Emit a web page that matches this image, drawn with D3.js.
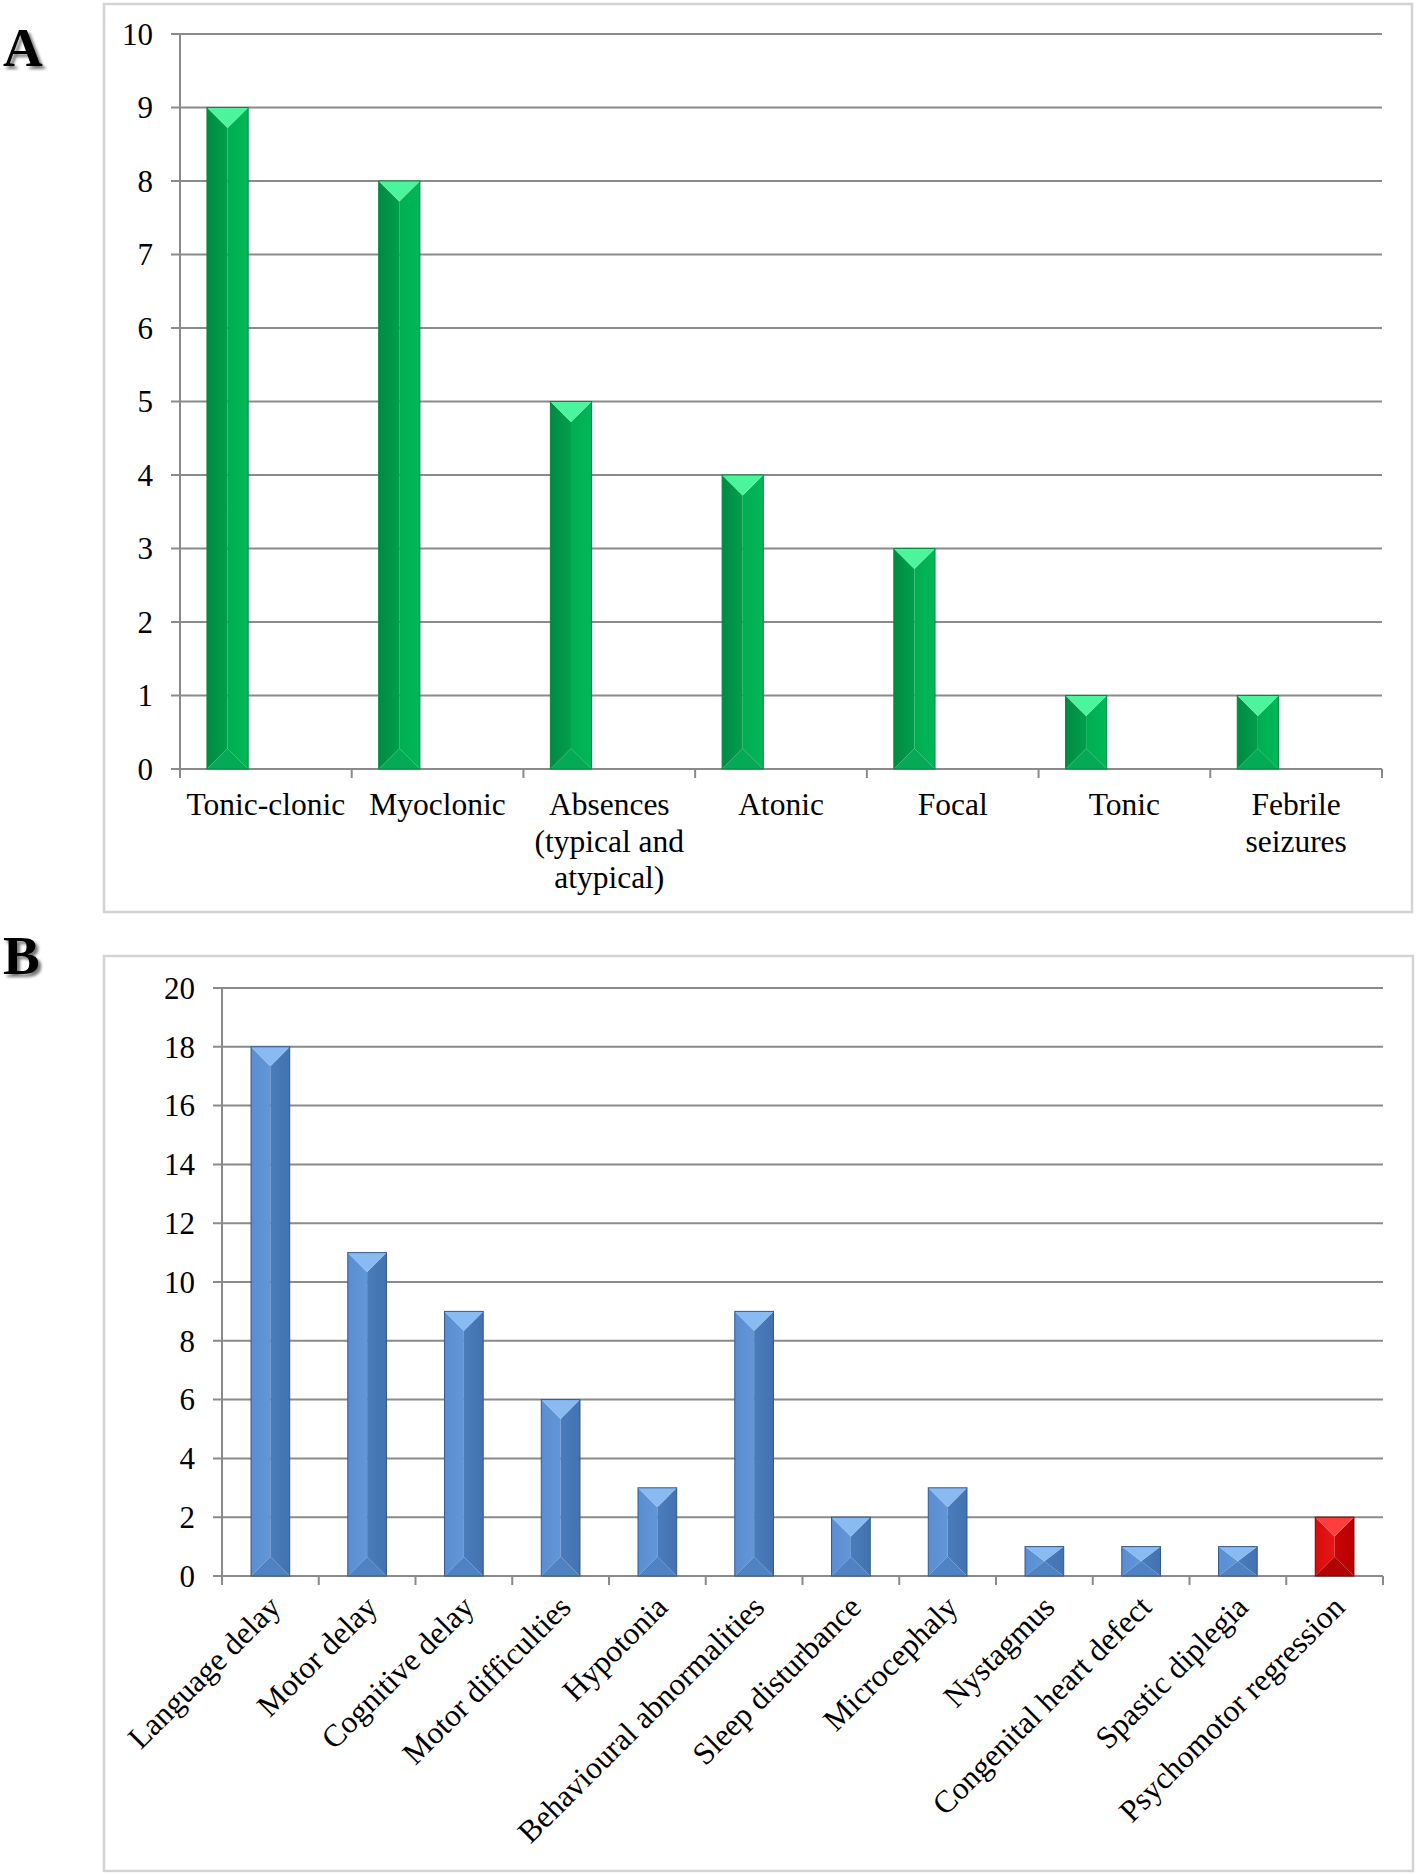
<!DOCTYPE html>
<html><head><meta charset="utf-8">
<script src="https://cdn.jsdelivr.net/npm/d3@7"></script>
<style>
body{margin:0;background:#fff}
svg{display:block}
text{font-family:"Liberation Serif","Times New Roman",serif;fill:#000}
</style>
</head><body>
<svg id="chart" width="1418" height="1875"></svg>
<script>
// ---------- DATA ----------
const categoriesA = ["Tonic-clonic","Myoclonic","Absences (typical and atypical)","Atonic","Focal","Tonic","Febrile seizures"];
const labelLinesA = [["Tonic-clonic"],["Myoclonic"],["Absences","(typical and","atypical)"],["Atonic"],["Focal"],["Tonic"],["Febrile","seizures"]];
const valuesA = [9,8,5,4,3,1,1];
const ticksA = [0,1,2,3,4,5,6,7,8,9,10];

const categoriesB = ["Language delay","Motor delay","Cognitive delay","Motor difficulties","Hypotonia","Behavioural abnormalities","Sleep disturbance","Microcephaly","Nystagmus","Congenital heart defect","Spastic diplegia","Psychomotor regression"];
const valuesB = [18,11,9,6,3,9,2,3,1,1,1,2];
const groupB = ["blue","blue","blue","blue","blue","blue","blue","blue","blue","blue","blue","red"];
const ticksB = [0,2,4,6,8,10,12,14,16,18,20];

// ---------- STYLE ----------
const palettes = {
  green:{top:"#4cf59b",l0:"#008a42",l1:"#00a04d",r0:"#00ae52",r1:"#00b858",bot:"#04aa55",stroke:"#06883f"},
  blue:{top:"#8abaf2",l0:"#5a8ed0",l1:"#6196d8",r0:"#4a7cbb",r1:"#4372b0",bot:"#4f82c2",stroke:"#34598a"},
  red:{top:"#ff3d3d",l0:"#d80c0c",l1:"#e81616",r0:"#c80505",r1:"#b80000",bot:"#b20202",stroke:"#7e0000"}
};
const svg = d3.select("#chart");
const defs = svg.append("defs");
Object.entries(palettes).forEach(([k,p])=>{
  const gl = defs.append("linearGradient").attr("id","gl_"+k).attr("x1",0).attr("x2",1).attr("y1",0).attr("y2",0);
  gl.append("stop").attr("offset","0%").attr("stop-color",p.l0);
  gl.append("stop").attr("offset","100%").attr("stop-color",p.l1);
  const gr = defs.append("linearGradient").attr("id","gr_"+k).attr("x1",0).attr("x2",1).attr("y1",0).attr("y2",0);
  gr.append("stop").attr("offset","0%").attr("stop-color",p.r0);
  gr.append("stop").attr("offset","100%").attr("stop-color",p.r1);
});
const blur = defs.append("filter").attr("id","shadow").attr("x","-20%").attr("y","-20%").attr("width","140%").attr("height","140%");
blur.append("feGaussianBlur").attr("stdDeviation",1.5);

function panelLabel(txt, x, y){
  svg.append("text").attr("x",x+3).attr("y",y+3).attr("font-size",55).attr("font-weight","bold")
     .style("fill","#777").attr("filter","url(#shadow)").text(txt);
  svg.append("text").attr("x",x).attr("y",y).attr("font-size",55).attr("font-weight","bold").text(txt);
}

function drawBar(g, bx, by, bw, bh, pal, key){
  const d = Math.min(bw/2, bh/2);
  const cx = bx + bw/2;
  const pts = a => a.map(p=>p.join(",")).join(" ");
  g.append("polygon").attr("points",pts([[bx,by],[cx,by+d],[cx,by+bh-d],[bx,by+bh]])).attr("fill","url(#gl_"+key+")");
  g.append("polygon").attr("points",pts([[bx+bw,by],[bx+bw,by+bh],[cx,by+bh-d],[cx,by+d]])).attr("fill","url(#gr_"+key+")");
  g.append("polygon").attr("points",pts([[bx,by+bh],[bx+bw,by+bh],[cx,by+bh-d]])).attr("fill",pal.bot);
  g.append("polygon").attr("points",pts([[bx,by],[bx+bw,by],[cx,by+d]])).attr("fill",pal.top);
  g.append("rect").attr("x",bx).attr("y",by).attr("width",bw).attr("height",bh)
   .attr("fill","none").attr("stroke",pal.stroke).attr("stroke-width",1);
}

function panel(cfg){
  const g = svg.append("g");
  g.append("rect").attr("x",cfg.box[0]).attr("y",cfg.box[1]).attr("width",cfg.box[2]).attr("height",cfg.box[3])
    .attr("fill","none").attr("stroke","#d3d3d3").attr("stroke-width",2.5);
  const x = d3.scaleBand().domain(cfg.cats).range([cfg.x0,cfg.x1]).padding(0);
  const y = d3.scaleLinear().domain([0,cfg.max]).range([cfg.y0,cfg.y1]);
  g.selectAll("line.grid").data(cfg.ticks).join("line").attr("class","grid")
    .attr("x1",cfg.x0-9).attr("x2",cfg.x1).attr("y1",d=>y(d)).attr("y2",d=>y(d))
    .attr("stroke","#8a8a8a").attr("stroke-width",2);
  g.append("line").attr("x1",cfg.x0).attr("x2",cfg.x0).attr("y1",y(cfg.max)).attr("y2",y(0)+9)
    .attr("stroke","#8a8a8a").attr("stroke-width",2);
  const bounds = cfg.cats.map(c=>x(c)).concat([cfg.x1]);
  g.selectAll("line.xt").data(bounds).join("line").attr("class","xt")
    .attr("x1",d=>d).attr("x2",d=>d).attr("y1",y(0)).attr("y2",y(0)+9)
    .attr("stroke","#8a8a8a").attr("stroke-width",2);
  g.selectAll("text.yl").data(cfg.ticks).join("text").attr("class","yl")
    .attr("x",cfg.x0-27).attr("y",d=>y(d)).attr("dy","0.35em").attr("text-anchor","end")
    .attr("font-size",31).text(d=>d);
  cfg.vals.forEach((v,i)=>{
    const c = cfg.cats[i];
    const bw = x.bandwidth()*cfg.barW;
    const bx = x(c) + x.bandwidth()*cfg.barOff;
    const key = cfg.colors[i];
    drawBar(g, bx, y(v), bw, y(0)-y(v), palettes[key], key);
  });
  return {g,x,y};
}

// ---------- PANEL A ----------
panelLabel("A", 3, 66);
const A = panel({box:[104,4,1308,908], cats:categoriesA, vals:valuesA, ticks:ticksA, max:10,
  x0:180, x1:1382, y0:769, y1:34, barOff:0.157, barW:0.24, colors:valuesA.map(()=>"green")});
categoriesA.forEach((c,i)=>{
  const t = A.g.append("text").attr("text-anchor","middle").attr("font-size",31.5)
    .attr("x",A.x(c)+A.x.bandwidth()/2).attr("y",815);
  labelLinesA[i].forEach((ln,j)=>{
    t.append("tspan").attr("x",A.x(c)+A.x.bandwidth()/2).attr("y",815+j*36.5).text(ln);
  });
});

// ---------- PANEL B ----------
panelLabel("B", 3, 974);
const B = panel({box:[104,956,1309,915], cats:categoriesB, vals:valuesB, ticks:ticksB, max:20,
  x0:222, x1:1383, y0:1576, y1:988, barOff:0.3, barW:0.4, colors:groupB});
categoriesB.forEach((c)=>{
  const ax = B.x(c)+B.x.bandwidth()/2 + 12;
  const ay = 1576 + 33;
  B.g.append("text").attr("text-anchor","end").attr("font-size",31.5)
    .attr("transform",`translate(${ax},${ay}) rotate(-45)`).text(c);
});
</script>
</body></html>
